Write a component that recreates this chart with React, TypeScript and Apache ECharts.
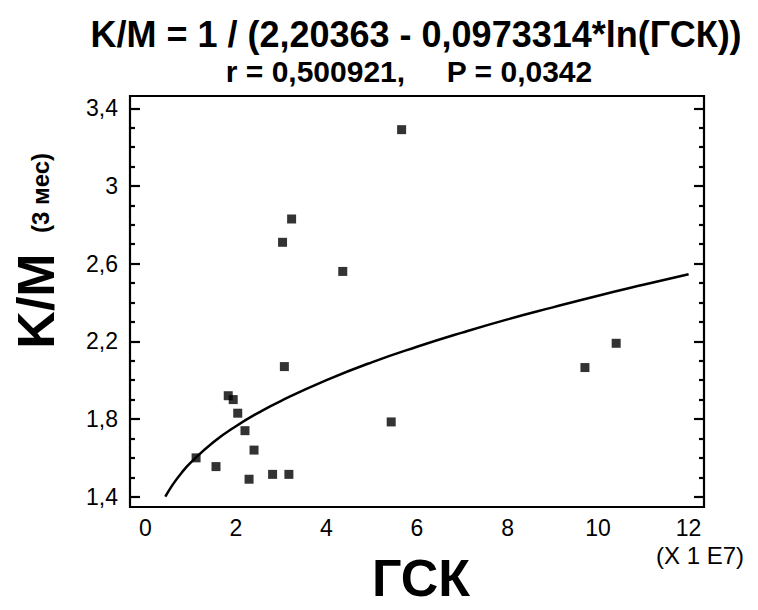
import React, { useEffect, useRef } from "react";
import * as echarts from "echarts";

// Observed data points (ГСК in units of 1E7, K/M)
const gskValues = [5.66, 3.23, 3.03, 4.36, 3.07, 1.83, 1.94, 2.04, 2.2, 2.4, 1.12, 1.56, 2.29, 2.81, 3.17, 5.43, 9.71, 10.4];
const kmValues = [3.29, 2.83, 2.71, 2.56, 2.07, 1.92, 1.9, 1.83, 1.74, 1.64, 1.6, 1.555, 1.49, 1.515, 1.515, 1.785, 2.065, 2.19];

// Fitted curve
const fitX = [0.44, 0.6, 0.8, 1, 1.5, 2, 2.5, 3, 4, 5, 6, 7, 8, 9, 10, 11, 12];
const fitY = [1.4, 1.461, 1.523, 1.575, 1.68, 1.763, 1.833, 1.894, 2.0, 2.092, 2.172, 2.245, 2.313, 2.375, 2.435, 2.491, 2.545];

// Tick labels
const xTickValues = [0, 2, 4, 6, 8, 10, 12];
const yMin = 1.4;
const yMax = 3.4;
const yInterval = 0.4;

const titleLine1 = "K/M = 1 / (2,20363 - 0,0973314*ln(ГСК))";
const titleLine2 = "r = 0,500921,     P = 0,0342";

const X_MIN = -0.34;
const X_MAX = 12.34;

export default function App() {
  const ref = useRef<HTMLDivElement>(null);

  useEffect(() => {
    if (!ref.current) return;
    const chart = echarts.init(ref.current, undefined, { renderer: "svg" });
    const black = "#000";
    const font = "Arial, 'Liberation Sans', sans-serif";

    const yAxisTicks = (position: "left" | "right", showLabel: boolean) => ({
      type: "value" as const,
      gridIndex: 0,
      position,
      min: yMin,
      max: yMax,
      interval: yInterval,
      axisLine: { show: false, onZero: false },
      splitLine: { show: false },
      axisTick: { show: true, inside: true, length: 10, lineStyle: { color: black, width: 2.2 } },
      minorTick: { show: true, splitNumber: 4, length: 5, lineStyle: { color: black, width: 2.2 } },
      axisLabel: showLabel
        ? {
            color: black,
            fontSize: 23,
            fontFamily: font,
            margin: 12,
            formatter: (v: number) => String(+v.toFixed(1)).replace(".", ","),
          }
        : { show: false },
    });

    chart.setOption({
      animation: false,
      backgroundColor: "#fff",
      textStyle: { fontFamily: font },
      grid: [
        { left: 130, right: 54, top: 108.3, bottom: 113.3, containLabel: false },
        { left: 130, right: 54, top: 96, bottom: 103, show: true, borderColor: black, borderWidth: 2.2, backgroundColor: "transparent", z: 5 },
      ],
      title: [
        {
          text: titleLine1,
          left: 411,
          top: 11,
          textAlign: "center",
          textStyle: { fontFamily: font, fontWeight: "bold", fontSize: 36, color: black },
        },
        {
          text: titleLine2,
          left: 404,
          top: 51,
          textAlign: "center",
          textStyle: { fontFamily: font, fontWeight: "bold", fontSize: 30, color: black },
        },
      ],
      xAxis: [
        {
          type: "value",
          gridIndex: 0,
          position: "bottom",
          offset: 10.3,
          min: X_MIN,
          max: X_MAX,
          axisLine: { show: false, onZero: false },
          axisTick: { show: false },
          splitLine: { show: false },
          axisLabel: {
            customValues: xTickValues,
            color: black,
            fontSize: 23,
            fontFamily: font,
            margin: 9,
          },
        },
        { type: "value", gridIndex: 1, show: false, min: 0, max: 1 },
      ],
      yAxis: [
        yAxisTicks("left", true),
        yAxisTicks("right", false),
        { type: "value", gridIndex: 1, show: false, min: 0, max: 1 },
      ],
      graphic: [
        {
          type: "text",
          x: 36,
          y: 301,
          rotation: Math.PI / 2,
          style: {
            text: "K/M",
            font: `bold 52px ${font}`,
            fill: black,
            textAlign: "center",
            textVerticalAlign: "middle",
          },
        },
        {
          type: "text",
          x: 40,
          y: 193,
          rotation: Math.PI / 2,
          style: {
            text: "(3 мес)",
            font: `bold 24px ${font}`,
            fill: black,
            textAlign: "center",
            textVerticalAlign: "middle",
          },
        },
        {
          type: "text",
          x: 700,
          y: 555,
          style: {
            text: "(X 1 E7)",
            font: `24px ${font}`,
            fill: black,
            textAlign: "center",
            textVerticalAlign: "middle",
          },
        },
        {
          type: "text",
          x: 421,
          y: 578,
          style: {
            text: "ГСК",
            font: `bold 52px ${font}`,
            fill: black,
            textAlign: "center",
            textVerticalAlign: "middle",
          },
        },
      ],
      series: [
        {
          type: "line",
          xAxisIndex: 0,
          yAxisIndex: 0,
          data: fitX.map((x, i) => [x, fitY[i]]),
          smooth: true,
          symbol: "none",
          clip: false,
          lineStyle: { color: black, width: 2.5 },
          silent: true,
        },
        {
          type: "scatter",
          xAxisIndex: 0,
          yAxisIndex: 0,
          data: gskValues.map((x, i) => [x, kmValues[i]]),
          symbol: "rect",
          symbolSize: 9,
          itemStyle: { color: black },
        },
      ],
    });

    return () => {
      chart.dispose();
    };
  }, []);

  return (
    <div
      ref={ref}
      style={{ position: "fixed", left: 0, top: 0, width: 758, height: 610, background: "#fff" }}
    />
  );
}
